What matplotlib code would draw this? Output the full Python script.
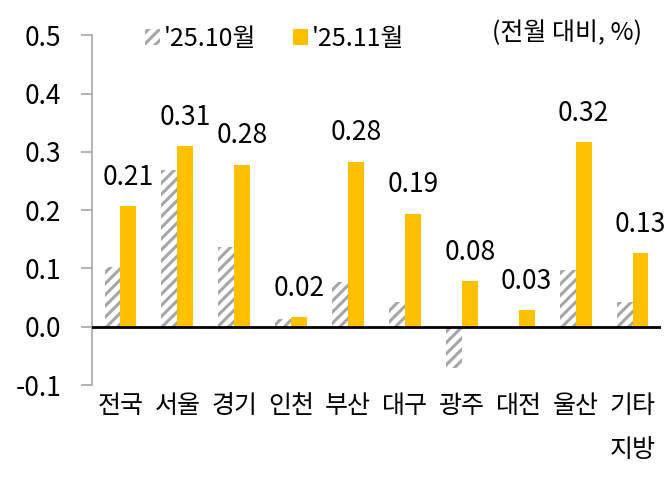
import matplotlib.pyplot as plt
import numpy as np

plt.rcParams["font.family"] = ["Noto Sans CJK KR", "DejaVu Sans"]
plt.rcParams["font.weight"] = "light"
plt.rcParams["hatch.linewidth"] = 2.2

regions = ["전국", "서울", "경기", "인천", "부산", "대구", "광주", "대전", "울산", "기타\n지방"]
oct_values = [0.103, 0.269, 0.136, 0.013, 0.076, 0.043, -0.070, 0.0, 0.097, 0.043]
nov_values = [0.207, 0.310, 0.278, 0.016, 0.283, 0.194, 0.078, 0.028, 0.317, 0.126]
series_names = ["'25.10월", "'25.11월"]
y_ticks = [-0.1, 0.0, 0.1, 0.2, 0.3, 0.4, 0.5]

YELLOW = "#FFC000"
GRAY = "#a6a6a6"
FS = 18

fig = plt.figure(figsize=(6.67, 4.82), dpi=100)
ax = fig.add_axes([0.138, 0.201, 0.853, 0.726])

x = np.arange(len(regions))
w = 0.28
ax.bar(x - w / 2, oct_values, w, color="white", edgecolor=GRAY, hatch="///",
       linewidth=0, label=series_names[0])
ax.bar(x + w / 2, nov_values, w, color=YELLOW, linewidth=0, label=series_names[1])

for xi, v in zip(x, nov_values):
    ax.annotate(f"{v:.2f}", (xi + w / 2, v), xytext=(0, 11), textcoords="offset points",
                ha="center", va="bottom", fontsize=FS + 1)

ax.axhline(0, color="black", lw=2, zorder=3)
ax.set_xlim(-0.5, len(regions) - 0.5)
ax.set_ylim(-0.1, 0.5)
ax.set_yticks(y_ticks)
ax.set_yticklabels([f"{t:.1f}" for t in y_ticks], fontsize=FS + 1)
ax.set_xticks(x)
ax.set_xticklabels(regions, fontsize=FS, linespacing=1.9)
ax.tick_params(axis="x", length=0, pad=6)
ax.tick_params(axis="y", length=8, color=GRAY, width=1.2, pad=14)
for side in ["top", "right", "bottom"]:
    ax.spines[side].set_visible(False)
ax.spines["left"].set_color(GRAY)
ax.spines["left"].set_linewidth(1.2)

ax.legend(loc="center left", bbox_to_anchor=(0.075, 0.99), ncol=2, frameon=False,
          fontsize=FS, handlelength=0.6, handleheight=0.6, handletextpad=0.15,
          columnspacing=1.5, borderaxespad=0)
fig.text(0.962, 0.932, "(전월 대비, %)", ha="right", va="center", fontsize=FS)

fig.savefig("out.png", dpi=100)
